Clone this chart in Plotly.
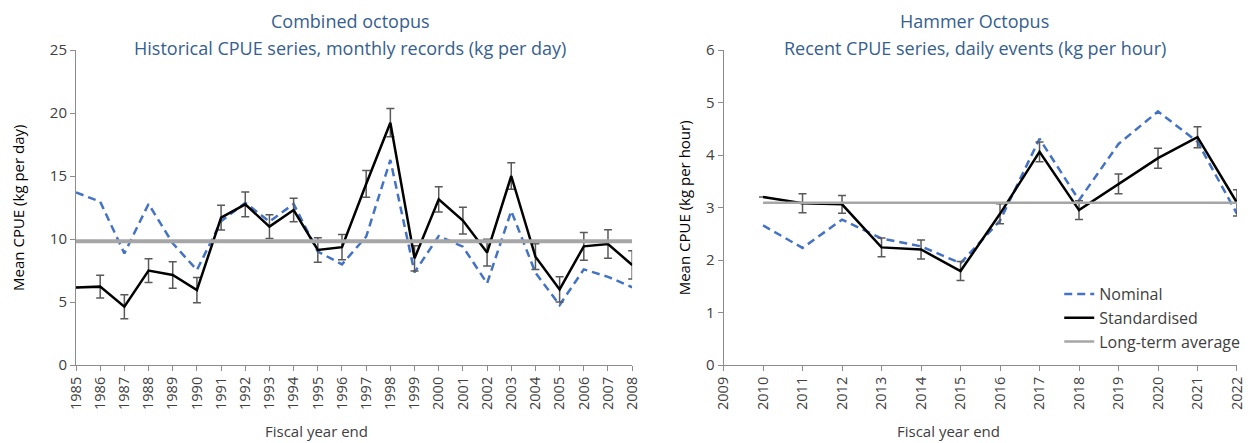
import plotly.graph_objects as go

# ---------------- data ----------------
years_hist = list(range(1985, 2009))
nominal_hist = [13.7, 12.96, 8.86, 12.78, 9.66, 7.54, 11.4, 12.88, 11.38, 12.78,
                9.0, 7.99, 10.19, 16.27, 7.35, 10.24, 9.39, 6.48, 12.22, 7.33,
                4.76, 7.59, 7.0, 6.17]
std_hist = [6.16, 6.22, 4.63, 7.49, 7.14, 5.95, 11.69, 12.75, 10.98, 12.3,
            9.13, 9.35, 14.37, 19.23, 8.47, 13.15, 11.46, 8.92, 15.0, 8.6,
            6.0, 9.42, 9.6, 7.94]
err_hist = [0, 0.9, 0.95, 0.95, 1.05, 1.0, 0.98, 0.98, 0.94, 0.93,
            0.97, 1.0, 1.06, 1.12, 1.0, 1.0, 1.06, 1.06, 1.06, 1.03,
            1.0, 1.1, 1.13, 1.12]
avg_hist = 9.83

years_recent = list(range(2010, 2023))
nominal_recent = [2.66, 2.23, 2.77, 2.41, 2.26, 1.94, 2.75, 4.31, 3.14, 4.21, 4.83, 4.25, 2.88]
std_recent = [3.20, 3.08, 3.06, 2.24, 2.20, 1.79, 2.88, 4.06, 2.95, 3.45, 3.94, 4.34, 3.09]
err_recent = [0, 0.18, 0.17, 0.18, 0.18, 0.18, 0.19, 0.19, 0.18, 0.19, 0.19, 0.20, 0.25]
avg_recent = 3.09

ticks_hist = [str(y) for y in range(1985, 2009)]
ticks_recent = [str(y) for y in range(2009, 2023)]

# ---------------- styling ----------------
FONT = "Open Sans"
BLUE = "#4472C4"
GREY = "#A6A6A6"
ERR = "#595959"
TITLE_C = "#35608F"
AX = "#8C8C8C"

W, H = 1253, 443
L, R, T, B = 76, 8, 50, 78
PW = W - L - R
PH = H - T - B


def px_x(p):
    return (p - L) / PW


def px_y(p):
    return (H - B - p) / PH


fig = go.Figure()

# left chart
fig.add_trace(go.Scatter(x=years_hist, y=nominal_hist, mode="lines", name="Nominal",
                         line=dict(color=BLUE, width=2.5, dash="8px,5px"),
                         xaxis="x", yaxis="y", showlegend=False))
fig.add_trace(go.Scatter(x=years_hist, y=std_hist, mode="lines", name="Standardised",
                         line=dict(color="black", width=2.5),
                         error_y=dict(type="data", array=err_hist, color=ERR, thickness=1.5, width=4),
                         xaxis="x", yaxis="y", showlegend=False))
fig.add_trace(go.Scatter(x=[years_hist[0], years_hist[-1]], y=[avg_hist, avg_hist], mode="lines",
                         name="Long-term average", line=dict(color=GREY, width=4),
                         xaxis="x", yaxis="y", showlegend=False))

# right chart
fig.add_trace(go.Scatter(x=years_recent, y=nominal_recent, mode="lines", name="Nominal",
                         line=dict(color=BLUE, width=2.5, dash="8px,5px"),
                         xaxis="x2", yaxis="y2"))
fig.add_trace(go.Scatter(x=years_recent, y=std_recent, mode="lines", name="Standardised",
                         line=dict(color="black", width=2.5),
                         error_y=dict(type="data", array=err_recent, color=ERR, thickness=1.5, width=4),
                         xaxis="x2", yaxis="y2"))
fig.add_trace(go.Scatter(x=[years_recent[0], years_recent[-1]], y=[avg_recent, avg_recent], mode="lines",
                         name="Long-term average", line=dict(color=GREY, width=2.5),
                         xaxis="x2", yaxis="y2"))

xcommon = dict(showgrid=False, zeroline=False, showline=True, linecolor=AX, linewidth=1,
               ticks="outside", ticklen=5, tickcolor=AX, tickangle=-90,
               tickfont=dict(family=FONT, size=14.5, color="#404040"))
ycommon = dict(showgrid=False, zeroline=False, showline=True, linecolor=AX, linewidth=1,
               ticks="outside", ticklen=5, tickcolor=AX,
               tickfont=dict(family=FONT, size=15, color="#404040"))

fig.update_layout(
    width=W, height=H,
    margin=dict(l=L, r=R, t=T, b=B),
    paper_bgcolor="white", plot_bgcolor="white",
    font=dict(family=FONT, size=15, color="black"),
    xaxis=dict(domain=[0, 560 / PW], range=[1985, 2008], tickmode="array",
               tickvals=list(range(1985, 2009)), ticktext=ticks_hist, **xcommon),
    yaxis=dict(range=[0, 25], dtick=5, anchor="x", **ycommon),
    xaxis2=dict(domain=[652 / PW, 1], range=[2009, 2022], tickmode="array",
                tickvals=list(range(2009, 2023)), ticktext=ticks_recent, anchor="y2", **xcommon),
    yaxis2=dict(range=[0, 6], dtick=1, anchor="x2", **ycommon),
    legend=dict(x=px_x(1066), y=px_y(277), xanchor="left", yanchor="top",
                font=dict(family=FONT, size=16, color="#404040"), tracegroupgap=0,
                bgcolor="rgba(0,0,0,0)"),
    showlegend=True,
)

ann = [
    dict(text="Combined octopus", x=px_x(352), y=px_y(21)),
    dict(text="Historical CPUE series, monthly records (kg per day)", x=px_x(352), y=px_y(48)),
    dict(text="Hammer Octopus", x=px_x(981), y=px_y(21)),
    dict(text="Recent CPUE series, daily events (kg per hour)", x=px_x(981), y=px_y(48)),
]
for a in ann:
    fig.add_annotation(xref="paper", yref="paper", showarrow=False, xanchor="center", yanchor="middle",
                       font=dict(family=FONT, size=18, color=TITLE_C), **a)

fig.add_annotation(text="Mean CPUE (kg per day)", xref="paper", yref="paper", x=px_x(17), y=0.5,
                   textangle=-90, showarrow=False, xanchor="center", yanchor="middle",
                   font=dict(family=FONT, size=15, color="black"))
fig.add_annotation(text="Mean CPUE (kg per hour)", xref="paper", yref="paper", x=px_x(688), y=0.5,
                   textangle=-90, showarrow=False, xanchor="center", yanchor="middle",
                   font=dict(family=FONT, size=15, color="black"))
fig.add_annotation(text="Fiscal year end", xref="paper", yref="paper", x=px_x(318), y=px_y(431),
                   showarrow=False, xanchor="center", yanchor="middle",
                   font=dict(family=FONT, size=15, color="#404040"))
fig.add_annotation(text="Fiscal year end", xref="paper", yref="paper", x=px_x(955), y=px_y(431),
                   showarrow=False, xanchor="center", yanchor="middle",
                   font=dict(family=FONT, size=15, color="#404040"))

fig.write_html("out.html")
